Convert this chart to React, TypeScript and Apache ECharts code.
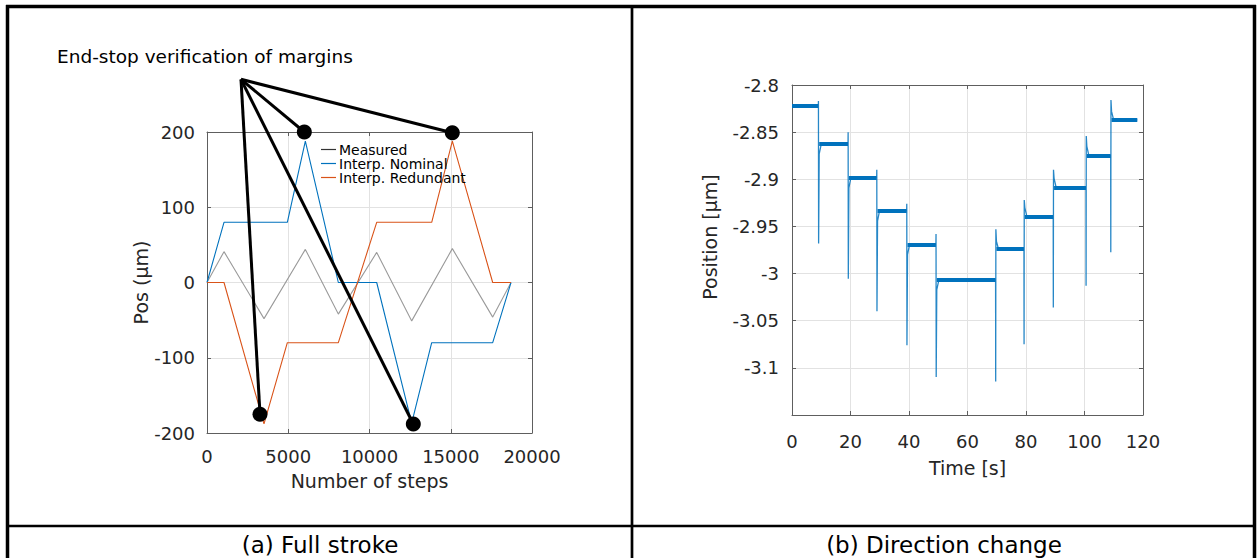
import React, { useEffect, useRef } from "react";
import * as echarts from "echarts";

const FONT = "DejaVu Sans";
const INK = "#262626";
const AXIS = "#5e5e5e";
const GRID = "#e2e2e2";
const BLUE = "#0072BD";
const ORANGE = "#D95319";

// ---------- (a) Full stroke ----------
const leftXTicks = [0, 5000, 10000, 15000, 20000];
const leftYTicks = [-200, -100, 0, 100, 200];
const seriesNames = ["Measured", "Interp. Nominal", "Interp. Redundant"];
const measuredSteps = [0, 1046, 3508, 6052, 8082, 10443, 12597, 15098, 17582, 18708];
const measuredPos = [0, 41, -48, 44, -42, 40, -51, 45, -46, 0];
const nominalSteps = [0, 1046, 4944, 6052, 8082, 10443, 12597, 13828, 17582, 18708];
const nominalPos = [0, 80, 80, 188, 0, 0, -187, -80, -80, 0];
const redundantSteps = [0, 1046, 3508, 4944, 8082, 10443, 13828, 15098, 17582, 18708];
const redundantPos = [0, 0, -188, -80, -80, 80, 80, 188, 0, 0];
const calloutOrigin = [2092, 270];
const calloutTargets = [
  [5988, 200],
  [15095, 199],
  [3262, -175],
  [12696, -188],
];
const calloutText = "End-stop verification of margins";

// ---------- (b) Direction change ----------
const rightXTicks = [0, 20, 40, 60, 80, 100, 120];
const rightYTicks = [-3.15, -3.1, -3.05, -3, -2.95, -2.9, -2.85, -2.8];
const stepTimes = [9.0, 19.15, 28.95, 39.2, 49.2, 69.6, 79.3, 89.3, 100.5, 108.95];
const levels = [-2.822, -2.8627, -2.898, -2.933, -2.969, -3.007, -2.974, -2.9395, -2.9085, -2.875, -2.837];
const spikeFirst = [-2.817, -2.85, -2.89, -2.926, -2.958, -3.1145, -3.075, -3.036, -3.013, -2.9775];
const spikeSecond = [-2.968, -3.0056, -3.04, -3.076, -3.1096, -2.953, -2.922, -2.89, -2.854, -2.816];
const settleValues = [-2.873, -2.909, -2.944, -2.98, -3.017, -2.966, -2.93, -2.899, -2.865, -2.828];
const endTime = 118.05;
const spikeTiming = [0.04, 0.1, 0.3, 1.0]; // seconds after each step

const captions = ["(a) Full stroke", "(b) Direction change"];
const xTitles = ["Number of steps", "Time [s]"];
const yTitles = ["Pos (\u00b5m)", "Position [\u00b5m]"];

const zip = (xs: number[], ys: number[]) => xs.map((x, i) => [x, ys[i]]);

function buildTrace() {
  const pts: number[][] = [[0, levels[0]]];
  stepTimes.forEach((t, i) => {
    pts.push([t, levels[i]]);
    pts.push([t + spikeTiming[0], spikeFirst[i]]);
    pts.push([t + spikeTiming[1], spikeSecond[i]]);
    pts.push([t + spikeTiming[2], settleValues[i]]);
    pts.push([t + spikeTiming[3], levels[i + 1]]);
  });
  pts.push([endTime, levels[levels.length - 1]]);
  return pts;
}

function buildPlateaus() {
  return levels.map((v, i) => {
    const start = i === 0 ? 0 : stepTimes[i - 1] + spikeTiming[2];
    const end = i < stepTimes.length ? stepTimes[i] : endTime;
    return { coords: [[start, v], [end, v]] };
  });
}

const fmtNum = (v: number) => String(parseFloat(v.toFixed(3)));

function axisBase(ticks: number[], extra: any) {
  return {
    type: "value",
    min: ticks[0],
    max: ticks[ticks.length - 1],
    interval: ticks[1] - ticks[0],
    axisLine: { show: true, onZero: false, lineStyle: { color: AXIS, width: 1 } },
    axisTick: { show: true, inside: true, length: 4, lineStyle: { color: AXIS } },
    splitLine: { show: true, lineStyle: { color: GRID, width: 1 } },
    axisLabel: { fontSize: 18, color: INK, fontFamily: FONT, formatter: fmtNum },
    nameTextStyle: { fontSize: 19, color: INK, fontFamily: FONT },
    nameLocation: "middle",
    ...extra,
  };
}

function mirrorAxis(ticks: number[], extra: any) {
  return axisBase(ticks, {
    axisLabel: { show: false },
    splitLine: { show: false },
    ...extra,
  });
}

export default function App() {
  const ref = useRef<HTMLDivElement>(null);

  useEffect(() => {
    if (!ref.current) return;
    const chart = echarts.init(ref.current, undefined, { renderer: "svg" });

    const option: any = {
      animation: false,
      textStyle: { fontFamily: FONT },
      grid: [
        { left: 207, top: 132, width: 325, height: 301, outerBoundsMode: "none" },
        { left: 792, top: 85, width: 351, height: 330, outerBoundsMode: "none" },
      ],
      xAxis: [
        axisBase(leftXTicks, {
          gridIndex: 0,
          position: "bottom",
          name: xTitles[0],
          nameGap: 38,
          axisLabel: { fontSize: 18, color: INK, fontFamily: FONT, margin: 14, formatter: fmtNum },
        }),
        mirrorAxis(leftXTicks, { gridIndex: 0, position: "top" }),
        axisBase(rightXTicks, {
          gridIndex: 1,
          position: "bottom",
          name: xTitles[1],
          nameGap: 43,
          axisLabel: { fontSize: 18, color: INK, fontFamily: FONT, margin: 17, formatter: fmtNum },
        }),
        mirrorAxis(rightXTicks, { gridIndex: 1, position: "top" }),
      ],
      yAxis: [
        axisBase(leftYTicks, {
          gridIndex: 0,
          position: "left",
          name: yTitles[0],
          nameGap: 54,
          axisLabel: { fontSize: 18, color: INK, fontFamily: FONT, margin: 12, formatter: fmtNum },
        }),
        mirrorAxis(leftYTicks, { gridIndex: 0, position: "right" }),
        axisBase(rightYTicks, {
          gridIndex: 1,
          position: "left",
          name: yTitles[1],
          nameGap: 73,
          nameTextStyle: { fontSize: 19, color: INK, fontFamily: FONT, padding: [0, 0, 0, 26] },
          axisLabel: {
            fontSize: 18,
            color: INK,
            fontFamily: FONT,
            margin: 13,
            showMinLabel: false,
            formatter: fmtNum,
          },
        }),
        mirrorAxis(rightYTicks, { gridIndex: 1, position: "right" }),
      ],
      legend: {
        left: 321,
        top: 142.5,
        orient: "vertical",
        padding: 0,
        itemGap: 0,
        itemWidth: 15,
        itemHeight: 1.2,
        icon: "rect",
        selectedMode: false,
        textStyle: { fontSize: 14, color: "#000", fontFamily: FONT, lineHeight: 13.8, padding: [0, 0, 0, -2] },
        data: [
          { name: seriesNames[0], itemStyle: { color: "#333333" } },
          { name: seriesNames[1], itemStyle: { color: BLUE } },
          { name: seriesNames[2], itemStyle: { color: ORANGE } },
        ],
      },
      series: [
        {
          name: seriesNames[0],
          type: "line",
          xAxisIndex: 0,
          yAxisIndex: 0,
          symbol: "none",
          lineStyle: { color: "#9a9a9a", width: 1.1 },
          itemStyle: { color: "#9a9a9a" },
          data: zip(measuredSteps, measuredPos),
          z: 2,
        },
        {
          name: seriesNames[1],
          type: "line",
          xAxisIndex: 0,
          yAxisIndex: 0,
          symbol: "none",
          lineStyle: { color: BLUE, width: 1.1 },
          itemStyle: { color: BLUE },
          data: zip(nominalSteps, nominalPos),
          z: 2,
        },
        {
          name: seriesNames[2],
          type: "line",
          xAxisIndex: 0,
          yAxisIndex: 0,
          symbol: "none",
          lineStyle: { color: ORANGE, width: 1.1 },
          itemStyle: { color: ORANGE },
          data: zip(redundantSteps, redundantPos),
          z: 2,
        },
        {
          type: "lines",
          coordinateSystem: "cartesian2d",
          xAxisIndex: 0,
          yAxisIndex: 0,
          clip: false,
          silent: true,
          lineStyle: { color: "#000", width: 3, opacity: 1, curveness: 0 },
          data: calloutTargets.map((p) => ({ coords: [calloutOrigin, p] })),
          z: 5,
        },
        {
          type: "scatter",
          xAxisIndex: 0,
          yAxisIndex: 0,
          clip: false,
          silent: true,
          symbol: "circle",
          symbolSize: 15,
          itemStyle: { color: "#000", opacity: 1 },
          data: calloutTargets,
          z: 6,
        },
        {
          type: "lines",
          coordinateSystem: "cartesian2d",
          xAxisIndex: 2,
          yAxisIndex: 2,
          silent: true,
          lineStyle: { color: BLUE, width: 4, opacity: 1, curveness: 0 },
          data: buildPlateaus(),
          z: 3,
        },
        {
          type: "line",
          xAxisIndex: 2,
          yAxisIndex: 2,
          symbol: "none",
          silent: true,
          lineStyle: { color: BLUE, width: 1.3, opacity: 0.85 },
          data: buildTrace(),
          z: 3,
        },
      ],
      graphic: [
        { type: "line", shape: { x1: 6, y1: 6.5, x2: 1256, y2: 6.5 }, style: { stroke: "#000", lineWidth: 3.5 } },
        { type: "line", shape: { x1: 7.5, y1: 5, x2: 7.5, y2: 558 }, style: { stroke: "#000", lineWidth: 3.5 } },
        { type: "line", shape: { x1: 1254.5, y1: 5, x2: 1254.5, y2: 558 }, style: { stroke: "#000", lineWidth: 3.5 } },
        { type: "line", shape: { x1: 632, y1: 5, x2: 632, y2: 558 }, style: { stroke: "#000", lineWidth: 2.7 } },
        { type: "line", shape: { x1: 6, y1: 526, x2: 1256, y2: 526 }, style: { stroke: "#000", lineWidth: 2.7 } },
        {
          type: "text",
          x: 57,
          y: 56,
          style: { text: calloutText, fontSize: 18.5, fontFamily: FONT, fill: "#000", verticalAlign: "middle", align: "left" },
        },
        {
          type: "text",
          x: 320,
          y: 544.5,
          style: { text: captions[0], fontSize: 23, fontFamily: FONT, fill: "#000", verticalAlign: "middle", align: "center" },
        },
        {
          type: "text",
          x: 944,
          y: 544.5,
          style: { text: captions[1], fontSize: 23, fontFamily: FONT, fill: "#000", verticalAlign: "middle", align: "center" },
        },
      ],
    };

    chart.setOption(option);
    return () => chart.dispose();
  }, []);

  return (
    <div
      ref={ref}
      style={{ position: "absolute", left: 0, top: 0, width: 1257, height: 558, background: "#fff" }}
    />
  );
}
